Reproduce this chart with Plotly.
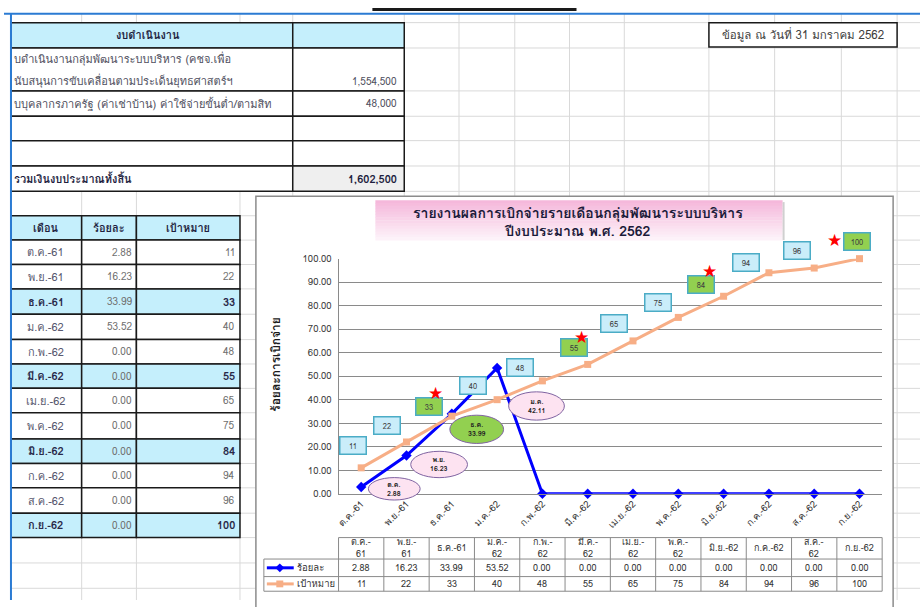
import plotly.graph_objects as go

# ---------------- data ----------------
months = ["ต.ค.-61", "พ.ย.-61", "ธ.ค.-61", "ม.ค.-62", "ก.พ.-62", "มี.ค.-62",
          "เม.ย.-62", "พ.ค.-62", "มิ.ย.-62", "ก.ค.-62", "ส.ค.-62", "ก.ย.-62"]
percent = [2.88, 16.23, 33.99, 53.52, 0.00, 0.00, 0.00, 0.00, 0.00, 0.00, 0.00, 0.00]
target = [11, 22, 33, 40, 48, 55, 65, 75, 84, 94, 96, 100]
table_headers = ["ต.ค.-<br>61", "พ.ย.-<br>61", "ธ.ค.-61", "ม.ค.-<br>62", "ก.พ.-<br>62", "มี.ค.-<br>62",
                 "เม.ย.-<br>62", "พ.ค.-<br>62", "มิ.ย.-62", "ก.ค.-62", "ส.ค.-<br>62", "ก.ย.-62"]
quarter_idx = [2, 5, 8, 11]
oval_months = ["ต.ค.", "พ.ย.", "ธ.ค.", "ม.ค."]
oval_values = ["2.88", "16.23", "33.99", "42.11"]
budget_line1 = "บดำเนินงานกลุ่มพัฒนาระบบบริหาร (คชจ.เพื่อ"
budget_line2 = "นับสนุนการขับเคลื่อนตามประเด็นยุทธศาสตร์ฯ"
budget_line3 = "บบุคลากรภาครัฐ (ค่าเช่าบ้าน) ค่าใช้จ่ายขั้นต่ำ/ตามสิท"
budget_values = ["1,554,500", "48,000"]
budget_total_label = "รวมเงินงบประมาณทั้งสิ้น"
budget_total = "1,602,500"
chart_title = "รายงานผลการเบิกจ่ายรายเดือนกลุ่มพัฒนาระบบบริหาร"
chart_subtitle = "ปีงบประมาณ พ.ศ. 2562"
date_note = "ข้อมูล ณ วันที่ 31 มกราคม 2562"
series_names = ["ร้อยละ", "เป้าหมาย"]

# ---------------- layout helpers (positions / styles) ----------------
W, H = 920, 607
FONT = "Loma, Tahoma, Garuda, 'Noto Sans Thai', 'DejaVu Sans', sans-serif"
PX0, PX1 = 336, 882      # plot area x (pixels)
PY0, PY1 = 498, 257      # plot area y for 0 and 100
STEP = (PX1 - PX0) / len(months)
BLUE = "#0000ff"
ORANGE = "#f7ae86"
CYAN = "#c5effc"
GRID = "#d9d9d9"


def PX(x):
    return x / W


def PY(y):
    return 1 - y / H


def data_px(xv):
    return PX0 + (xv + 0.5) * STEP


def data_py(yv):
    return PY0 - yv * (PY0 - PY1) / 100.0


shapes = []
annotations = []


def rect(x0, y0, x1, y1, fill=None, line=None, lw=1, layer="below"):
    shapes.append(dict(type="rect", xref="paper", yref="paper",
                       x0=PX(x0), x1=PX(x1), y0=PY(y1), y1=PY(y0),
                       fillcolor=fill if fill else "rgba(0,0,0,0)",
                       line=dict(color=line if line else "rgba(0,0,0,0)", width=lw if line else 0),
                       layer=layer))


def seg(x0, y0, x1, y1, color, w=1, layer="below"):
    shapes.append(dict(type="line", xref="paper", yref="paper",
                       x0=PX(x0), x1=PX(x1), y0=PY(y0), y1=PY(y1),
                       line=dict(color=color, width=w), layer=layer))


def text(x, y, s, size=10, color="#333333", xanchor="center", bold=False, **kw):
    if bold:
        s = "<b>" + s.replace("<br>", "</b><br><b>") + "</b>"
    annotations.append(dict(xref="paper", yref="paper", x=PX(x), y=PY(y), text=s,
                            showarrow=False, xanchor=xanchor, yanchor="middle",
                            font=dict(size=size, color=color, family=FONT), **kw))


# ---------------- spreadsheet background ----------------
GRID_X = [78, 133, 237, 290, 402, 457, 513, 568, 623, 708, 774, 841, 897]
GRID_Y = [15, 41, 85, 111, 136, 162, 188, 213, 238, 263, 288, 314, 340, 365, 390,
          415, 442, 467, 492, 518, 543, 569, 595]
for gx in GRID_X:
    seg(gx, 6, gx, H, GRID)
for gy in GRID_Y:
    seg(7, gy, W, gy, GRID)

# budget table
BT_ROWS = [15, 41, 85, 111, 136, 162, 188]
for r in range(len(BT_ROWS) - 1):
    fill_a = CYAN if r == 0 else "white"
    fill_b = CYAN if r == 0 else ("#efefef" if r == len(BT_ROWS) - 2 else "white")
    rect(7, BT_ROWS[r], 290, BT_ROWS[r + 1], fill=fill_a, line="#1a1a1a", lw=1.5)
    rect(290, BT_ROWS[r], 402, BT_ROWS[r + 1], fill=fill_b, line="#1a1a1a", lw=1.5)
text(145, 28, "งบดำเนินงาน", size=11, color="#1f1f3f", bold=True)
text(8, 52, budget_line1, size=11, color="#505060", xanchor="left")
text(8, 75, budget_line2, size=11, color="#505060", xanchor="left")
text(397, 75, budget_values[0], size=10, color="#505060", xanchor="right")
text(8, 98, budget_line3, size=11, color="#505060", xanchor="left")
text(397, 98, budget_values[1], size=10, color="#505060", xanchor="right")
text(8, 175, budget_total_label, size=11, color="#1f1f3f", xanchor="left", bold=True)
text(397, 175, budget_total, size=11, color="#1f1f3f", xanchor="right", bold=True)

# month table
MT_ROWS = [213, 238, 263, 288, 314, 340, 365, 390, 415, 442, 467, 492, 518, 543]
MT_COLS = [7, 78, 133, 237]
for r in range(len(MT_ROWS) - 1):
    is_q = r == 0 or (r - 1) in quarter_idx
    for c in range(3):
        rect(MT_COLS[c], MT_ROWS[r], MT_COLS[c + 1], MT_ROWS[r + 1],
             fill=CYAN if is_q else "white", line="#1a1a1a", lw=1.5)
yc = (MT_ROWS[0] + MT_ROWS[1]) / 2
text(42, yc, "เดือน", size=11, color="#1f1f3f", bold=True)
text(105, yc, series_names[0], size=11, color="#1f1f3f", bold=True)
text(185, yc, series_names[1], size=11, color="#1f1f3f", bold=True)
for i, m in enumerate(months):
    yc = (MT_ROWS[i + 1] + MT_ROWS[i + 2]) / 2
    q = i in quarter_idx
    text(42, yc, m, size=11, color="#2a2a4a" if q else "#5a5a70", bold=q)
    text(131, yc, f"{percent[i]:.2f}", size=10, color="#707070", xanchor="right")
    text(234, yc, f"{target[i]:d}", size=11 if q else 10,
         color="#2a2a4a" if q else "#707070", xanchor="right", bold=q)

# date note box and top marks
rect(708, 15, 897, 40, fill="white", line="#1a1a1a", lw=1.5)
text(802, 28, date_note, size=11.5, color="#404040")
seg(370, 1.5, 575, 1.5, "#1a1a1a", w=3)
seg(0, 6, W, 6, "#2b7bd3", w=2)
seg(7, 6, 7, H, "#2b7bd3", w=2)

# ---------------- chart object ----------------
rect(253, 193, 893, H + 10, fill="white", line="#8c8c8c", lw=1.5)
# title box with a pink gradient
TB_X0, TB_X1, TB_Y0, TB_Y1 = 373, 782, 197, 238
NB = 14
c_top, c_bot = (245, 184, 219), (253, 242, 249)
for b in range(NB):
    t = b / (NB - 1)
    col = tuple(round(c_top[k] + (c_bot[k] - c_top[k]) * t) for k in range(3))
    y0 = TB_Y0 + (TB_Y1 - TB_Y0) * b / NB
    y1 = TB_Y0 + (TB_Y1 - TB_Y0) * (b + 1) / NB
    rect(TB_X0, y0, TB_X1, y1 + 0.5, fill="rgb(%d,%d,%d)" % col)
seg(TB_X1 + 1, TB_Y0 + 2, TB_X1 + 1, TB_Y1, "#d0d0d0", w=2)
text(577, 219, chart_title + "<br>" + chart_subtitle, size=14, color="#1b1b3a", bold=True)

# y axis title
annotations.append(dict(xref="paper", yref="paper", x=PX(273), y=PY(365), text="<b>ร้อยละการเบิกจ่าย</b>",
                        textangle=-90, showarrow=False, xanchor="center", yanchor="middle",
                        font=dict(size=12, color="#1a1a1a", family=FONT)))

# target label boxes (placed in paper space from the data scale so none get hidden)
box_dx = [-0.17, -0.42, -0.5, -0.53, -0.5, -0.31, -0.43, -0.45, -0.5, -0.51, -0.39, -0.05]
box_dy = [9.3, 7.0, 4.3, 6.1, 5.9, 7.2, 7.2, 6.3, 5.2, 4.3, 7.3, 7.5]
for i, v in enumerate(target):
    q = i in quarter_idx
    annotations.append(dict(xref="paper", yref="paper", x=PX(data_px(i + box_dx[i])),
                            y=PY(data_py(v + box_dy[i])), text=str(v),
                            showarrow=False, width=25, height=16, borderpad=0,
                            xanchor="center", yanchor="middle",
                            bgcolor="#92d050" if q else "#caedfa", bordercolor="#4bacc6", borderwidth=1.5,
                            font=dict(size=7.5, color="#404040", family=FONT)))
# stars over quarter-end targets
star_dx = [-0.35, -0.14, -0.32, -0.55]
star_dy = [9.7, 11.8, 10.6, 7.9]
for k, i in enumerate(quarter_idx):
    annotations.append(dict(xref="paper", yref="paper", x=PX(data_px(i + star_dx[k])),
                            y=PY(data_py(target[i] + star_dy[k])), text="★",
                            xanchor="center", yanchor="middle",
                            showarrow=False, font=dict(size=17, color="#ff0000", family="DejaVu Sans")))

# ovals with actual values
oval_dx = [0.73, 0.72, 0.55, 0.87]
oval_dy = [-0.8, -3.8, -6.6, -16.2]
oval_w = [52, 57, 54, 56]
oval_h = [23, 27, 29, 29]
for k in range(len(oval_months)):
    cx = data_px(k + oval_dx[k])
    cy = data_py(percent[k] + oval_dy[k])
    green = k == 2
    shapes.append(dict(type="circle", xref="paper", yref="paper",
                       x0=PX(cx - oval_w[k] / 2), x1=PX(cx + oval_w[k] / 2),
                       y0=PY(cy + oval_h[k] / 2), y1=PY(cy - oval_h[k] / 2),
                       fillcolor="#92d050" if green else "#fde3f1",
                       line=dict(color="#8064a2", width=1), layer="above"))
    text(cx, cy, oval_months[k] + "<br>" + oval_values[k], size=7, color="#222222", bold=True)

# ---------------- data table under the chart ----------------
TT_Y = [543, 565, 583, 598]
TCOL = "#8a8a8a"
for i in range(len(months) + 1):
    xx = PX0 + i * STEP
    seg(xx, TT_Y[0], xx, TT_Y[3], TCOL)
seg(PX0, TT_Y[0], PX1, TT_Y[0], TCOL)
for yy in TT_Y[1:]:
    seg(261, yy, PX1, yy, TCOL)
seg(261, TT_Y[1], 261, TT_Y[3], TCOL)
for i in range(len(months)):
    cx = data_px(i)
    text(cx, (TT_Y[0] + TT_Y[1]) / 2, table_headers[i], size=9, color="#333333")
    text(cx, (TT_Y[1] + TT_Y[2]) / 2, f"{percent[i]:.2f}", size=9, color="#333333")
    text(cx, (TT_Y[2] + TT_Y[3]) / 2, f"{target[i]:d}", size=9, color="#333333")
# legend keys
ly1 = (TT_Y[1] + TT_Y[2]) / 2
ly2 = (TT_Y[2] + TT_Y[3]) / 2
seg(264, ly1, 291, ly1, BLUE, w=3, layer="above")
shapes.append(dict(type="path", xref="paper", yref="paper", layer="above",
                   path="M %f,%f L %f,%f L %f,%f L %f,%f Z" % (PX(277), PY(ly1 - 4.5), PX(281.5), PY(ly1),
                                                               PX(277), PY(ly1 + 4.5), PX(272.5), PY(ly1)),
                   fillcolor=BLUE, line=dict(color=BLUE, width=0)))
seg(264, ly2, 291, ly2, ORANGE, w=3, layer="above")
rect(273.5, ly2 - 3.5, 280.5, ly2 + 3.5, fill=ORANGE, layer="above")
text(292, ly1, series_names[0], size=9.5, color="#333333", xanchor="left")
text(292, ly2, series_names[1], size=9.5, color="#333333", xanchor="left")

# ---------------- traces ----------------
fig = go.Figure()
fig.add_trace(go.Scatter(x=months, y=percent, name=series_names[0], mode="lines+markers",
                         line=dict(color=BLUE, width=3), marker=dict(symbol="diamond", size=8, color=BLUE),
                         cliponaxis=False))
fig.add_trace(go.Scatter(x=months, y=target, name=series_names[1], mode="lines+markers",
                         line=dict(color=ORANGE, width=3), marker=dict(symbol="square", size=7, color=ORANGE),
                         cliponaxis=False))

fig.update_layout(
    width=W, height=H, autosize=False,
    margin=dict(l=0, r=0, t=0, b=0),
    paper_bgcolor="white", plot_bgcolor="rgba(0,0,0,0)",
    showlegend=False,
    font=dict(family=FONT, size=10, color="#333333"),
    xaxis=dict(domain=[PX(PX0), PX(PX1)], type="category", categoryorder="array", categoryarray=months,
               range=[-0.5, len(months) - 0.5], showgrid=False, zeroline=False,
               showline=True, linecolor="#8c8c8c", linewidth=1, ticks="",
               tickangle=-45, tickfont=dict(size=9.5, color="#333333", family=FONT)),
    yaxis=dict(domain=[PY(PY0), PY(PY1)], range=[0, 100], dtick=10, tickformat=".2f",
               showgrid=True, gridcolor="#8a8a8a", gridwidth=1, zeroline=False,
               showline=True, linecolor="#8a8a8a", linewidth=1, ticks="",
               ticklabelstandoff=4, tickfont=dict(size=9.5, color="#404040", family=FONT)),
    shapes=shapes,
    annotations=annotations,
)

fig.write_html("out.html", config={"displayModeBar": False},
               post_script="document.body.style.margin='0';document.body.style.overflow='hidden';")
